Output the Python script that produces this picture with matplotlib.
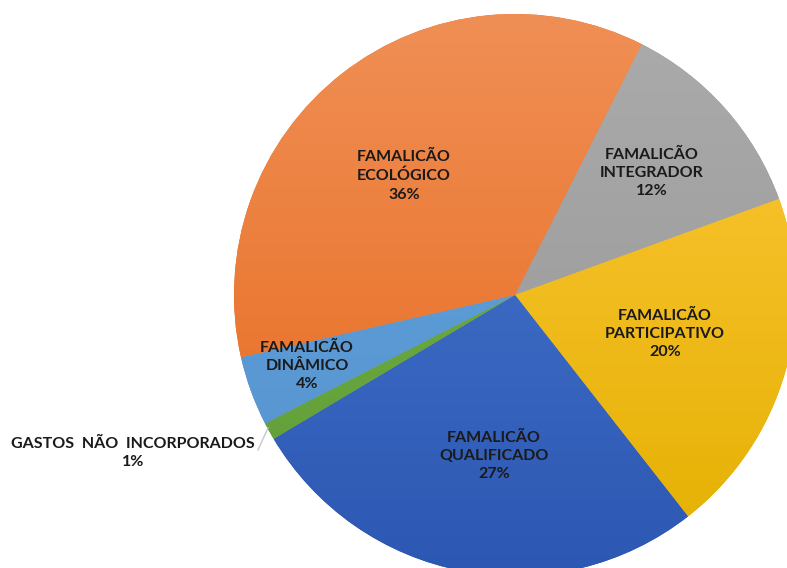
import numpy as np
import matplotlib.pyplot as plt
from matplotlib.colors import LinearSegmentedColormap

# slices, clockwise from the grey one
names = ['FAMALICÃO\nINTEGRADOR', 'FAMALICÃO\nPARTICIPATIVO', 'FAMALICÃO\nQUALIFICADO',
         'GASTOS  NÃO  INCORPORADOS', 'FAMALICÃO\nDINÂMICO', 'FAMALICÃO\nECOLÓGICO']
shares = [12, 20, 27, 1, 4, 36]

# (top colour, bottom colour) for the gradient fill
cols = [('#ababab', '#959595'), ('#ffc83c', '#e3b000'), ('#4a7bd2', '#2c57b2'),
        ('#74b24a', '#5f9c35'), ('#62a4dc', '#5592cf'), ('#f08f55', '#e6681a')]

# label centres in pixels (y down), measured on the picture
lab_xy = [(652, 173), (665, 334), (494, 456), (133, 453), (307, 366), (404, 176)]

W, H = 787, 568
cx, cy, R = 515, H - 295, 281

fig = plt.figure(figsize=(W / 100, H / 100), dpi=100)
ax = fig.add_axes([0, 0, 1, 1])
ax.axis('off')

wedges, _ = ax.pie(shares, center=(cx, cy), radius=R, startangle=63.2,
                   counterclock=False, colors=[c[1] for c in cols],
                   wedgeprops=dict(linewidth=0))

grad = np.linspace(1, 0, 256).reshape(-1, 1)
for w, (top, bot) in zip(wedges, cols):
    cmap = LinearSegmentedColormap.from_list('g', [bot, top])
    im = ax.imshow(grad, cmap=cmap, extent=[cx - R, cx + R, cy - R, cy + R],
                   aspect='auto', zorder=2, origin='upper')
    im.set_clip_path(w)
ax.set_xlim(0, W)
ax.set_ylim(0, H)
ax.set_aspect('equal')

fnt = dict(family=['Lato', 'DejaVu Sans'], fontweight='bold', fontsize=11.5,
           color='#1a1a1a', ha='center', va='center', zorder=5, linespacing=1.4)
for nm, s, (x, y) in zip(names, shares, lab_xy):
    if nm.startswith('GASTOS'):
        ax.text(x, H - y + 9, nm, **fnt)
        ax.text(x, H - y - 9, f'{s}%', **fnt)
    else:
        ax.text(x, H - y, f'{nm}\n{s}%', **fnt)

# leader line for the small slice
ax.plot([258, 268], [H - 450, H - 428], color='#c8c8c8', lw=1, zorder=4)

fig.savefig('out.png', dpi=100)
